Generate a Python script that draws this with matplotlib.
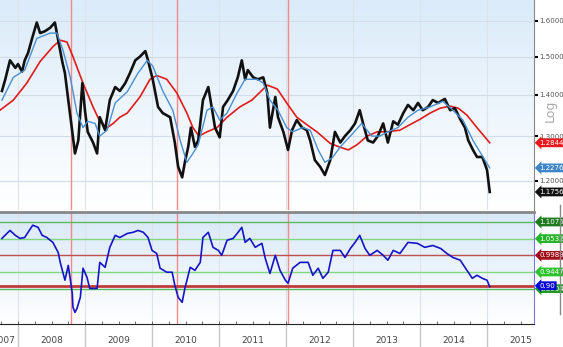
import numpy as np
import matplotlib.pyplot as plt
from matplotlib.colors import LinearSegmentedColormap
from matplotlib.ticker import FixedLocator, NullLocator
from matplotlib.lines import Line2D

# Price (decimal year, value)
price_t = [2007.76, 2007.81, 2007.88, 2007.96, 2008.00, 2008.06, 2008.10, 2008.15, 2008.21, 2008.28,
           2008.33, 2008.40, 2008.48, 2008.55, 2008.60, 2008.66, 2008.70, 2008.75, 2008.81, 2008.85,
           2008.90, 2008.96, 2009.00, 2009.04, 2009.12, 2009.18, 2009.22, 2009.30, 2009.37, 2009.45,
           2009.52, 2009.60, 2009.67, 2009.75, 2009.82, 2009.90, 2009.94, 2010.01, 2010.09, 2010.16,
           2010.27, 2010.34, 2010.39, 2010.45, 2010.49, 2010.54, 2010.58, 2010.64, 2010.69, 2010.76,
           2010.84, 2010.90, 2010.94, 2011.01, 2011.06, 2011.13, 2011.21, 2011.28, 2011.34, 2011.39,
           2011.43, 2011.51, 2011.58, 2011.66, 2011.72, 2011.76, 2011.84, 2011.88, 2011.96, 2012.03,
           2012.09, 2012.16, 2012.24, 2012.31, 2012.36, 2012.43, 2012.51, 2012.58, 2012.66, 2012.73,
           2012.81, 2012.88, 2012.96, 2013.03, 2013.10, 2013.15, 2013.22, 2013.30, 2013.37, 2013.45,
           2013.52, 2013.60, 2013.67, 2013.75, 2013.82, 2013.90, 2013.97, 2014.04, 2014.12, 2014.19,
           2014.27, 2014.37, 2014.45, 2014.52, 2014.60, 2014.67, 2014.72, 2014.79, 2014.85, 2014.93,
           2015.00, 2015.04]
price = [1.41, 1.44, 1.49, 1.47, 1.48, 1.46, 1.49, 1.51, 1.55, 1.595,
         1.565, 1.57, 1.58, 1.595, 1.545, 1.487, 1.456, 1.387, 1.31, 1.26,
         1.29, 1.43, 1.36, 1.31, 1.285, 1.26, 1.345, 1.314, 1.387, 1.42,
         1.41, 1.43, 1.456, 1.49, 1.50, 1.515, 1.49, 1.44, 1.37, 1.355,
         1.345, 1.285, 1.23, 1.207, 1.24, 1.275, 1.32, 1.275, 1.29, 1.387,
         1.42, 1.36, 1.32, 1.297, 1.37, 1.387, 1.41, 1.445, 1.49, 1.44,
         1.464, 1.445, 1.44, 1.445, 1.405, 1.32, 1.395, 1.345, 1.31, 1.268,
         1.314, 1.338, 1.32, 1.314, 1.29, 1.245, 1.23, 1.212, 1.245, 1.31,
         1.285, 1.30, 1.314, 1.33, 1.362, 1.33, 1.29, 1.285, 1.30, 1.33,
         1.285, 1.335, 1.327, 1.355, 1.375, 1.362, 1.38, 1.362, 1.37, 1.387,
         1.38, 1.39, 1.362, 1.367, 1.34, 1.32, 1.29, 1.268, 1.252, 1.252,
         1.223, 1.1756]

# Short moving average (blue)
ma_short_t = [2007.76, 2007.93, 2008.10, 2008.28, 2008.48, 2008.58, 2008.67, 2008.78, 2008.88, 2008.97,
              2009.04, 2009.15, 2009.22, 2009.33, 2009.45, 2009.63, 2009.79, 2009.93, 2010.01, 2010.16,
              2010.31, 2010.42, 2010.52, 2010.61, 2010.69, 2010.82, 2010.91, 2011.01, 2011.12, 2011.27,
              2011.39, 2011.57, 2011.66, 2011.76, 2011.88, 2012.01, 2012.10, 2012.25, 2012.36, 2012.48,
              2012.58, 2012.69, 2012.81, 2012.96, 2013.13, 2013.28, 2013.40, 2013.52, 2013.67, 2013.82,
              2013.97, 2014.15, 2014.34, 2014.49, 2014.64, 2014.79, 2014.94, 2015.04]
ma_short = [1.387, 1.445, 1.464, 1.55, 1.565, 1.565, 1.518, 1.445, 1.355, 1.32,
            1.335, 1.33, 1.30, 1.314, 1.38, 1.408, 1.456, 1.49, 1.475, 1.41,
            1.362, 1.29, 1.24, 1.26, 1.28, 1.362, 1.37, 1.338, 1.355, 1.405,
            1.44, 1.44, 1.43, 1.387, 1.362, 1.32, 1.31, 1.32, 1.314, 1.268,
            1.24, 1.25, 1.275, 1.30, 1.33, 1.30, 1.30, 1.31, 1.32, 1.345,
            1.362, 1.37, 1.384, 1.362, 1.338, 1.29, 1.252, 1.2276]

# Long moving average (red)
ma_long_t = [2007.73, 2007.93, 2008.13, 2008.33, 2008.52, 2008.63, 2008.73, 2008.82, 2008.97, 2009.12,
             2009.22, 2009.33, 2009.42, 2009.52, 2009.63, 2009.82, 2009.97, 2010.07, 2010.22, 2010.37,
             2010.52, 2010.61, 2010.70, 2010.82, 2010.97, 2011.12, 2011.31, 2011.49, 2011.72, 2011.87,
             2012.01, 2012.16, 2012.31, 2012.46, 2012.66, 2012.81, 2012.93, 2013.06, 2013.21, 2013.36,
             2013.51, 2013.70, 2013.85, 2014.00, 2014.15, 2014.30, 2014.45, 2014.57, 2014.70, 2014.85,
             2015.04]
ma_long = [1.362, 1.387, 1.43, 1.487, 1.527, 1.545, 1.54, 1.50, 1.43, 1.37,
           1.335, 1.32, 1.33, 1.345, 1.355, 1.395, 1.44, 1.45, 1.44, 1.405,
           1.355, 1.32, 1.30, 1.31, 1.32, 1.345, 1.37, 1.387, 1.425, 1.415,
           1.38, 1.345, 1.327, 1.31, 1.283, 1.274, 1.268, 1.28, 1.30, 1.31,
           1.31, 1.314, 1.327, 1.34, 1.355, 1.367, 1.372, 1.367, 1.35, 1.32,
           1.2844]

# Lower indicator (blue)
ind_t = [2007.76, 2007.88, 2007.96, 2008.03, 2008.10, 2008.15, 2008.22, 2008.30, 2008.36, 2008.43,
         2008.52, 2008.60, 2008.63, 2008.70, 2008.75, 2008.81, 2008.82, 2008.85, 2008.88, 2008.93,
         2008.97, 2009.03, 2009.07, 2009.18, 2009.22, 2009.30, 2009.37, 2009.45, 2009.52, 2009.63,
         2009.72, 2009.79, 2009.87, 2009.94, 2010.00, 2010.07, 2010.12, 2010.22, 2010.30, 2010.34,
         2010.39, 2010.45, 2010.49, 2010.57, 2010.64, 2010.72, 2010.76, 2010.84, 2010.91, 2010.99,
         2011.04, 2011.12, 2011.21, 2011.27, 2011.34, 2011.39, 2011.46, 2011.54, 2011.64, 2011.69,
         2011.76, 2011.84, 2011.91, 2011.99, 2012.03, 2012.10, 2012.21, 2012.33, 2012.40, 2012.48,
         2012.55, 2012.63, 2012.70, 2012.81, 2012.88, 2012.96, 2013.03, 2013.10, 2013.18, 2013.25,
         2013.36, 2013.45, 2013.52, 2013.60, 2013.70, 2013.82, 2013.96, 2014.07, 2014.19, 2014.31,
         2014.40, 2014.49, 2014.60, 2014.70, 2014.78, 2014.85, 2014.93, 2015.00, 2015.04]
ind = [1.054, 1.080, 1.064, 1.054, 1.057, 1.074, 1.097, 1.090, 1.064, 1.057,
       1.041, 1.008, 0.976, 0.918, 0.966, 0.875, 0.830, 0.813, 0.826, 0.862,
       0.957, 0.927, 0.891, 0.891, 0.976, 0.960, 1.025, 1.064, 1.057, 1.070,
       1.074, 1.080, 1.074, 1.057, 1.015, 1.005, 0.957, 0.944, 0.944, 0.902,
       0.862, 0.846, 0.891, 0.960, 0.950, 0.976, 1.057, 1.074, 1.025, 1.015,
       0.999, 1.048, 1.054, 1.070, 1.090, 1.041, 1.054, 1.025, 1.038, 0.989,
       0.940, 0.999, 0.950, 0.918, 0.908, 0.957, 0.976, 0.976, 0.934, 0.957,
       0.924, 0.944, 1.015, 1.015, 0.992, 1.021, 1.041, 1.064, 1.021, 0.999,
       1.015, 0.999, 0.983, 1.015, 1.005, 1.041, 1.038, 1.025, 1.031, 1.021,
       1.005, 0.992, 0.983, 0.950, 0.924, 0.934, 0.924, 0.918, 0.897]

# Levels of the lower panel
levels = [0.8904, 1.1075, 1.0532, 0.9989, 0.9447, 0.90]
level_labels = ['0.8904', '1.1075', '1.0532', '0.9989', '0.9447', '0.90']
level_line_colors = ['#5cb85c', '#5cb85c', '#80d880', '#c05050', '#80d880', '#c03a3a']
level_box_colors = ['#1e9b1e', '#1e7b1e', '#27b327', '#a00f1a', '#2cc22c', '#0a0ad8']

red_events = [2008.79, 2010.37, 2012.03]
years = [2008, 2009, 2010, 2011, 2012, 2013, 2014, 2015]
price_ticks = [1.2, 1.3, 1.4, 1.5, 1.6]

W, H = 563, 347
fig = plt.figure(figsize=(W / 100, H / 100), dpi=100)
pos_top = [0, 1 - 210 / H, 534 / W, 210 / H]
pos_bot = [0, 1 - 324 / H, 534 / W, 112 / H]

# Fundo em degradê
grad = np.linspace(0, 1, 256).reshape(-1, 1)
for pos, top_col in [(pos_top, '#dbebf9'), (pos_bot, '#d8e8f7')]:
    bg = fig.add_axes(pos, zorder=0)
    cmap_bg = LinearSegmentedColormap.from_list('bg', ['#ffffff', top_col])
    bg.imshow(grad, cmap=cmap_bg, aspect='auto', origin='lower', extent=[0, 1, 0, 1])
    bg.axis('off')

ax1 = fig.add_axes(pos_top, zorder=1)
ax2 = fig.add_axes(pos_bot, zorder=1)
for ax in (ax1, ax2):
    ax.set_facecolor('none')
    ax.set_xlim(2007.731, 2015.701)
    for yr in years:
        ax.axvline(yr, color='#dde3ea', lw=0.8, zorder=1)
    for ev in red_events:
        ax.axvline(ev, color='#f28a8a', lw=1.0, zorder=2)

#---------------------------Painel Superior---------------------------
ax1.set_yscale('log')
ax1.set_ylim(1.138, 1.661)
for v in price_ticks:
    ax1.axhline(v, color='#d3dde8', lw=0.8, zorder=1)
ax1.plot(ma_long_t, ma_long, color='#e01b1b', lw=1.2, zorder=3)
ax1.plot(price_t, price, color='#111111', lw=1.9, zorder=4)
ax1.plot(ma_short_t, ma_short, color='#4a8fd0', lw=1.0, zorder=5)

ax1.yaxis.tick_right()
ax1.yaxis.set_major_locator(FixedLocator(price_ticks))
ax1.yaxis.set_minor_locator(NullLocator())
ax1.set_yticklabels(['%.4f' % v for v in price_ticks])
ax1.tick_params(axis='y', direction='out', length=3, width=1.5, color='black',
                labelsize=5, labelcolor='#555555', pad=1)
ax1.set_xticks([])
for s in ['top', 'left', 'bottom']:
    ax1.spines[s].set_visible(False)
ax1.spines['right'].set_color('#888888')

for val, col in [(1.2844, '#e8181c'), (1.2276, '#3d85c6'), (1.1756, '#111111')]:
    ax1.annotate('%.4f' % val, xy=(1, val), xycoords=ax1.get_yaxis_transform(),
                 xytext=(4, 0), textcoords='offset points', ha='left', va='center',
                 fontsize=5, color='white', annotation_clip=False, zorder=10,
                 bbox=dict(boxstyle='larrow,pad=0.2', fc=col, ec='none'))

fig.text(550 / W, 1 - 111 / H, 'Log', rotation=90, color='#aaaaaa',
         fontsize=9, ha='center', va='center')

#---------------------------Painel Inferior---------------------------
ax2.set_ylim(0.7753, 1.140)
for lv, lc in zip(levels, level_line_colors):
    ax2.axhline(lv, color=lc, lw=2.0 if lv == 0.90 else 1.0, zorder=2)
ax2.plot(ind_t, ind, color='#1515c8', lw=1.2, zorder=4)

ax2.set_yticks([])
ax2.set_xticks([])
ax2.xaxis.set_minor_locator(FixedLocator(np.arange(2007.75, 2015.75, 0.25)))
ax2.tick_params(axis='x', which='minor', direction='in', length=2, color='#555555')
ax2.spines['left'].set_visible(False)
ax2.spines['top'].set_color('#888888')
ax2.spines['top'].set_linewidth(2)
ax2.spines['bottom'].set_color('#222222')
ax2.spines['right'].set_color('#7777dd')

for lv, lab, bc in zip(levels, level_labels, level_box_colors):
    ax2.annotate(lab, xy=(1, lv), xycoords=ax2.get_yaxis_transform(),
                 xytext=(4, 0), textcoords='offset points', ha='left', va='center',
                 fontsize=5, color='white', annotation_clip=False, zorder=10,
                 bbox=dict(boxstyle='larrow,pad=0.2', fc=bc, ec='none'))

# Separadores e rótulos dos anos
xt = ax2.get_xaxis_transform()
ax2.vlines(years, -0.21, 0, transform=xt, colors='#c8c8c8', lw=1, clip_on=False)
for yr in years:
    ax2.text(yr + 0.5, -0.143, str(yr), transform=xt, ha='center', va='center',
             fontsize=6.5, color='#444444')
ax2.text(2007.79, -0.143, '2007', transform=xt, ha='center', va='center',
         fontsize=6.5, color='#444444')

fig.add_artist(Line2D([560 / W, 560 / W], [1 - 205 / H, 1 - 314 / H],
                      color='#888888', lw=1))

plt.savefig('out.png', dpi=100)
